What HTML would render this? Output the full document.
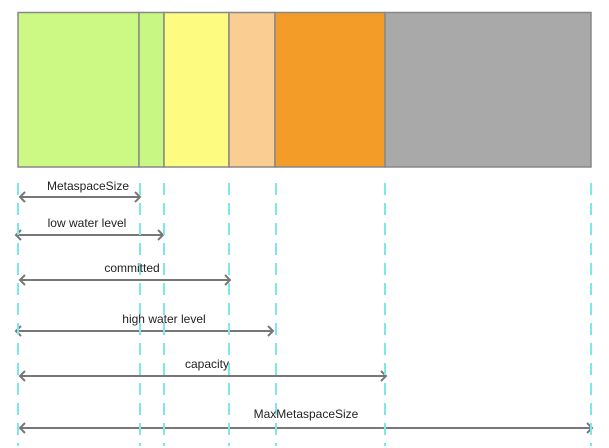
<!DOCTYPE html>
<html><head><meta charset="utf-8"><style>
html,body{margin:0;padding:0;background:#fff;width:609px;height:448px;overflow:hidden}
svg{display:block}
text{font-family:"Liberation Sans",Arial,sans-serif;font-size:12px;fill:#222}
</style></head><body>
<svg width="609" height="448" viewBox="0 0 609 448">
<g stroke="#888" stroke-width="1.5">
<rect x="18" y="12.5" width="121" height="154.5" fill="#ccf984"/>
<rect x="139" y="12.5" width="25" height="154.5" fill="#c9f783"/>
<rect x="164" y="12.5" width="65" height="154.5" fill="#fefc80"/>
<rect x="229" y="12.5" width="46" height="154.5" fill="#facd92"/>
<rect x="275" y="12.5" width="110" height="154.5" fill="#f49c28"/>
<rect x="385" y="12.5" width="206" height="154.5" fill="#a9a9a9"/>
</g>
<g stroke="#777" stroke-width="2" fill="none">
<line x1="20" y1="197" x2="140" y2="197"/><path d="M25,192 L20,197 L25,202 M135,192 L140,197 L135,202"/>
<line x1="16" y1="235" x2="163" y2="235"/><path d="M21,230 L16,235 L21,240 M158,230 L163,235 L158,240"/>
<line x1="20" y1="280" x2="230" y2="280"/><path d="M25,275 L20,280 L25,285 M225,275 L230,280 L225,285"/>
<line x1="16" y1="331" x2="273" y2="331"/><path d="M21,326 L16,331 L21,336 M268,326 L273,331 L268,336"/>
<line x1="20" y1="376" x2="386" y2="376"/><path d="M25,371 L20,376 L25,381 M381,371 L386,376 L381,381"/>
<line x1="20" y1="428" x2="592" y2="428"/><path d="M25,423 L20,428 L25,433 M587,423 L592,428 L587,433"/>
</g>
<g stroke="#7fe6ea" stroke-width="2" stroke-dasharray="12 8">
<line x1="18" y1="183" x2="18" y2="446"/>
<line x1="140" y1="183" x2="140" y2="446"/>
<line x1="164" y1="183" x2="164" y2="446"/>
<line x1="229" y1="183" x2="229" y2="446"/>
<line x1="276" y1="183" x2="276" y2="446"/>
<line x1="385" y1="183" x2="385" y2="446"/>
<line x1="591" y1="183" x2="591" y2="446"/>
</g>
<g text-anchor="middle">
<text x="88" y="190">MetaspaceSize</text>
<text x="87" y="227">low water level</text>
<text x="132" y="272">committed</text>
<text x="164" y="323">high water level</text>
<text x="207" y="368">capacity</text>
<text x="306" y="418">MaxMetaspaceSize</text>
</g>
</svg>
</body></html>
